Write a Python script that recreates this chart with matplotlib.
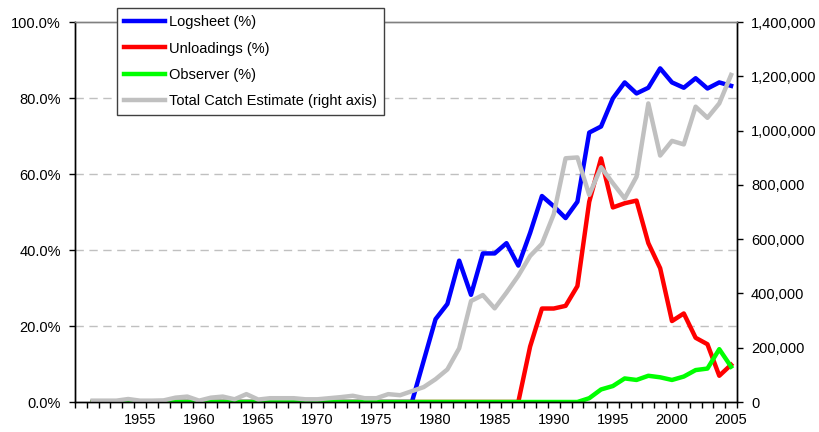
import numpy as np
import matplotlib
matplotlib.use("Agg")
import matplotlib.pyplot as plt
from matplotlib.ticker import FuncFormatter, FixedLocator

plt.rcParams["font.family"] = ["Liberation Sans", "DejaVu Sans"]

years = list(range(1951, 2006))

logsheet = [0] * 27 + [
    0, 10.9, 21.8, 25.8, 37.2, 28.2, 39.1, 39.1, 41.8, 35.9,
    44.5, 54.2, 51.5, 48.4, 52.7, 70.9, 72.5, 79.9, 84.1, 81.2,
    82.7, 87.8, 84.1, 82.7, 85.2, 82.5, 84.1, 83.2,
]
unloadings = [0] * 37 + [
    14.6, 24.6, 24.6, 25.3, 30.5, 52.7, 64.1, 51.2, 52.3, 53.0,
    41.8, 35.2, 21.3, 23.3, 16.9, 15.2, 6.9, 9.8,
]
observer = [0] * 42 + [
    1.0, 3.3, 4.2, 6.2, 5.8, 6.9, 6.5, 5.8, 6.7, 8.4, 8.8, 13.9, 9.3,
]
total_catch = [
    5000, 5000, 5000, 11000, 5000, 5000, 6000, 16000, 20000, 5000,
    16000, 20000, 10000, 29000, 9000, 14000, 14000, 14000, 10000, 10000,
    14000, 18000, 23000, 14000, 14000, 29000, 25000, 40000, 55000, 84000,
    120000, 198000, 372000, 394000, 345000, 403000, 465000, 538000, 583000, 692000,
    898000, 901000, 763000, 865000, 806000, 750000, 830000, 1100000, 908000, 962000,
    949000, 1088000, 1047000, 1100000, 1205000,
]

fig = plt.figure(figsize=(8.19, 4.32), dpi=100)
ax = fig.add_axes([75 / 819, 30 / 432, 662 / 819, 380 / 432])
ax2 = ax.twinx()

lw = 3.2
l1, = ax.plot(years, logsheet, color="#0000FF", lw=lw, label="Logsheet (%)")
l2, = ax.plot(years, unloadings, color="#FF0000", lw=lw, label="Unloadings (%)")
l3, = ax.plot(years, observer, color="#00FF00", lw=lw, label="Observer (%)")
l4, = ax2.plot(years, total_catch, color="#C0C0C0", lw=lw,
               label="Total Catch Estimate (right axis)")

ax.set_xlim(1949.5, 2005.5)
ax.set_ylim(0, 100)
ax2.set_ylim(0, 1400000)

# dashed gridlines off the left axis
for v in [20, 40, 60, 80]:
    ax.axhline(v, color="#C0C0C0", lw=1, dashes=(6, 4), zorder=0)

ax.set_yticks(np.arange(0, 101, 20))
ax.yaxis.set_major_formatter(FuncFormatter(lambda v, p: f"{v:.1f}%"))
ax2.set_yticks(np.arange(0, 1400001, 200000))
ax2.yaxis.set_major_formatter(FuncFormatter(lambda v, p: f"{int(v):,}"))

ax.set_xticks(range(1955, 2006, 5))
ax.xaxis.set_minor_locator(FixedLocator(np.arange(1949.5, 2006, 1)))
ax.tick_params(axis="x", which="major", length=0, pad=8, labelsize=10.5)
ax.tick_params(axis="x", which="minor", length=4, width=1)
ax.tick_params(axis="y", length=4, width=1, pad=6, labelsize=10.5)
ax2.tick_params(axis="y", length=4, width=1, pad=6, labelsize=10.5)

for a in (ax, ax2):
    a.spines["top"].set_color("#808080")
    a.spines["top"].set_linewidth(1)
    for s in ("left", "right", "bottom"):
        a.spines[s].set_color("black")
        a.spines[s].set_linewidth(1)

fig.legend(handles=[l1, l2, l3, l4], loc="upper left",
           bbox_to_anchor=(117 / 819, 1 - 8 / 432), borderaxespad=0,
           fontsize=10.5, frameon=True, fancybox=False, framealpha=1,
           edgecolor="#404040", handlelength=2.8, handletextpad=0.25,
           labelspacing=0.84, borderpad=0.5)

fig.savefig("out.png", dpi=100)
plt.close(fig)
